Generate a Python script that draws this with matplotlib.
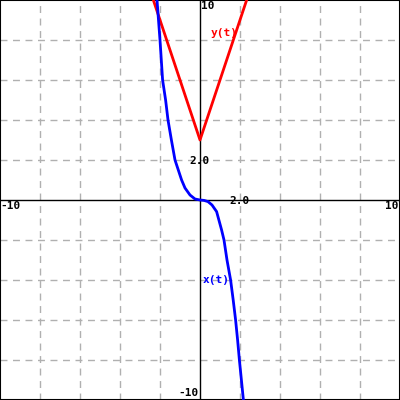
import matplotlib
matplotlib.use("Agg")
import matplotlib.pyplot as plt
import numpy as np

# Data
red_x = [-2.35, 0.0, 2.35]
red_y = [10.05, 3.0, 10.05]

blue_x = [-2.15, -2.0, -1.87, -1.72, -1.6, -1.43, -1.25, -0.92, -0.75, -0.5, -0.25, 0.0, 0.2, 0.4, 0.6, 0.83, 1.08, 1.2, 1.35, 1.53, 1.66, 1.78, 1.88, 1.97, 2.17]
blue_y = [10.0, 8.0, 6.0, 5.0, 4.0, 3.0, 2.0, 1.0, 0.6, 0.25, 0.05, 0.0, -0.02, -0.08, -0.25, -0.58, -1.5, -2.0, -3.0, -4.0, -5.0, -6.0, -7.0, -8.0, -10.0]

xmin, xmax, ymin, ymax = -10, 10, -10, 10
grid_vals = [-8, -6, -4, -2, 2, 4, 6, 8]

fig = plt.figure(figsize=(4, 4), dpi=100)
ax = fig.add_axes([0, 0, 1, 1])
ax.set_xlim(xmin, xmax)
ax.set_ylim(ymin, ymax)
ax.set_xticks([]); ax.set_yticks([])
for s in ax.spines.values():
    s.set_color('black'); s.set_linewidth(1.5)

for g in grid_vals:
    ax.axvline(g, color='#b0b0b0', lw=1, ls=(0, (5, 4)), zorder=1)
    ax.axhline(g, color='#b0b0b0', lw=1, ls=(0, (5, 4)), zorder=1)
ax.axhline(0, color='black', lw=1, zorder=2)
ax.axvline(0, color='black', lw=1, zorder=2)

ax.plot(red_x, red_y, color='#ff0000', lw=2, zorder=3)
ax.plot(blue_x, blue_y, color='#0000ff', lw=2, zorder=3)

font = dict(family='DejaVu Sans Mono', fontweight='bold', fontsize=8)
ax.text(-9.98, -0.3, '-10', ha='left', va='center', color='black', **font)
ax.text(9.9, -0.3, '10', ha='right', va='center', color='black', **font)
ax.text(0.05, 9.95, '10', ha='left', va='top', color='black', **font)
ax.text(-0.05, -9.9, '-10', ha='right', va='bottom', color='black', **font)
ax.text(0.0, 1.95, '2.0', ha='center', va='center', color='black', **font)
ax.text(2.0, -0.05, '2.0', ha='center', va='center', color='black', **font)
ax.text(1.2, 8.35, 'y(t)', ha='center', va='center', color='#ff0000', **font)
ax.text(0.8, -4.0, 'x(t)', ha='center', va='center', color='#0000ff', **font)

fig.savefig('out.png', dpi=100)
